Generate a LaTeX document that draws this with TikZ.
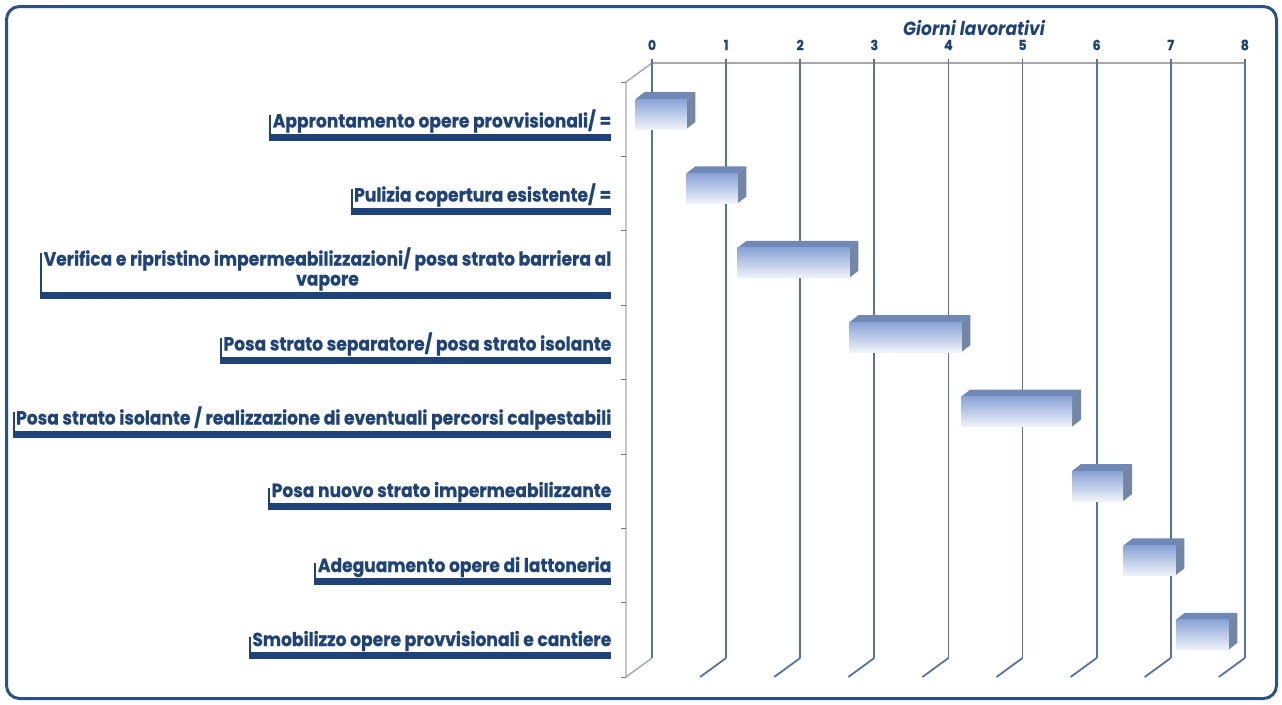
\documentclass[tikz,border=0pt]{standalone}
\usepackage{fontspec}
\setmainfont{Poppins}[FakeStretch=0.9, BoldFeatures={FakeBold=0.6}]
\usetikzlibrary{shadows}
\definecolor{navy}{HTML}{1F4378}
\definecolor{framec}{HTML}{2A5189}
\definecolor{gridc}{HTML}{5673A0}
\definecolor{wallc}{HTML}{A8A8A8}
\definecolor{barfrontA}{HTML}{8AA3D6}
\definecolor{barfrontB}{HTML}{F0F3FA}
\definecolor{bartop}{HTML}{6F88B6}
\definecolor{barside}{HTML}{7486A6}
\tikzset{
  tasklabel/.style={fill=white, text=navy, font=\bfseries\fontsize{19}{20}\selectfont,
    anchor=east, inner xsep=1.5pt, inner ysep=1pt, align=center,
    drop shadow={shadow xshift=-2pt, shadow yshift=-7pt, fill=navy, opacity=1}},
  daylabel/.style={text=navy, font=\bfseries\fontsize{14}{15}\selectfont},
  titlelabel/.style={text=navy, font=\bfseries\itshape\fontsize{19}{20}\selectfont},
  gridline/.style={draw=gridc, line width=1.8pt},
  wallline/.style={draw=wallc, line width=1.4pt},
  frameline/.style={draw=framec, line width=3pt, rounded corners=13pt}
}
\begin{document}
\begin{tikzpicture}[x=1pt,y=-1pt]
\useasboundingbox (0,0) rectangle (1282,704);
\fill[white] (0,0) rectangle (1282,704);
\draw[frameline] (6.5,6.5) rectangle (1276.5,698.5);
% walls
\draw[wallline] (652,63) -- (1245,63);
\draw[wallline] (652,63) -- (626,82) -- (626,677) -- (652,658);
\foreach \k in {0,...,8}{
  \draw[draw=wallc!70!black, line width=1pt] (621,{82+74.4*\k}) -- (626,{82+74.4*\k});
}
% grid lines
\foreach \d in {0,...,8}{
  \pgfmathsetmacro{\gx}{652+74.1*\d}
  \draw[gridline] (\gx,59) -- (\gx,658);
  \ifnum\d>0
    \draw[gridline] (\gx,658) -- (\gx-26,677);
  \fi
  \node[daylabel] (d\d) at (\gx,45) {\d};
}
\node[titlelabel] (title) at (974,28) {Giorni lavorativi};
% bars
\foreach \i/\s/\w in {0/0/0.685, 1/0.685/0.69, 2/1.375/1.51, 3/2.885/1.51, 4/4.395/1.495, 5/5.89/0.69, 6/6.585/0.70, 7/7.29/0.71}{
  \pgfmathsetmacro{\xa}{635.6+74.1*\s}
  \pgfmathsetmacro{\xb}{635.6+74.1*(\s+\w)}
  \pgfmathsetmacro{\ya}{99+74.4*\i}
  \pgfmathsetmacro{\yb}{\ya+30}
  \fill[bartop] (\xa,\ya) -- (\xa+9,\ya-7) -- (\xb+9,\ya-7) -- (\xb,\ya) -- cycle;
  \fill[barside] (\xb,\ya) -- (\xb+9,\ya-7) -- (\xb+9,\yb-7) -- (\xb,\yb) -- cycle;
  \shade[top color=barfrontA, bottom color=barfrontB] (\xa,\ya) rectangle (\xb,\yb);
}
% labels
\node[tasklabel] (t1) at (613,121) {Approntamento opere provvisionali/ =};
\node[tasklabel] (t2) at (613,195) {Pulizia copertura esistente/ =};
\node[tasklabel] (t3) at (613,269) {Verifica e ripristino impermeabilizzazioni/ posa strato barriera al\\vapore};
\node[tasklabel] (t4) at (613,344) {Posa strato separatore/ posa strato isolante};
\node[tasklabel] (t5) at (613,418) {Posa strato isolante / realizzazione di eventuali percorsi calpestabili};
\node[tasklabel] (t6) at (613,492) {Posa nuovo strato impermeabilizzante};
\node[tasklabel] (t7) at (613,567) {Adeguamento opere di lattoneria};
\node[tasklabel] (t8) at (613,641) {Smobilizzo opere provvisionali e cantiere};
\end{tikzpicture}
\end{document}
